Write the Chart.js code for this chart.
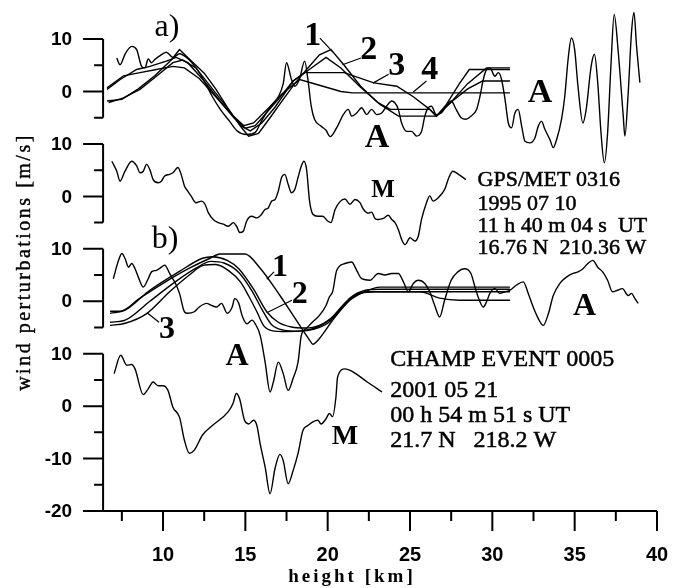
<!DOCTYPE html>
<html>
<head>
<meta charset="UTF-8">
<title>Wind perturbations</title>
<style>
    body {
        margin: 0;
        background: #fff;
    }
    #wrap {
        width: 675px;
        height: 588px;
    }
</style>
<script src="https://cdn.jsdelivr.net/npm/chart.js"></script>
</head>
<body>

<div id="wrap">
    <canvas id="windChart" width="675" height="588"></canvas>
</div>

<script>
// every series is [height km, wind perturbation m/s]; panels are stacked with an offset
const panelOffsets = { gps: 60, gpsModel: 40, champ: 20, champModel: 0 };

// a) GPS/MET 0316, observed profile (A)
const gpsObs = [
    [7.19,6.4],[7.39,5.1],[7.69,7.1],[8.1,8.6],[8.4,8.0],[8.7,4.8],[8.9,4.5],[9.1,6.2],[9.3,5.5],[9.5,6.1],
    [9.8,6.8],[10.2,7.5],[10.6,6.5],[11.0,7.2],[11.5,6.3],[12.0,4.5],[12.5,2.0],[13.0,-1.0],[13.5,-3.5],[14.0,-5.5],
    [14.5,-7.5],[15.08,-8.2],[15.6,-7.8],[16.0,-5.5],[16.5,-3.0],[17.0,-1.0],[17.3,1.5],[17.5,5.5],[17.8,2.3],[18.0,1.0],
    [18.3,2.5],[18.6,5.8],[18.8,2.3],[19.0,-2.8],[19.2,-5.3],[19.6,-6.6],[19.9,-7.4],[20.15,-8.6],[20.55,-6.9],[20.95,-4.4],
    [21.25,-3.4],[21.46,-4.7],[21.76,-4.1],[22.06,-3.1],[22.37,-4.4],[22.67,-3.4],[22.97,-4.4],[23.28,-4.1],[23.58,-2.8],[23.89,-1.8],
    [24.09,-2.2],[24.29,-3.4],[24.49,-6.0],[24.8,-7.6],[25.1,-7.6],[25.4,-8.5],[25.7,-7.6],[25.9,-4.7],[26.1,-3.1],[26.3,-2.8],
    [26.6,-4.4],[26.9,-4.1],[27.2,-2.8],[27.5,-1.8],[27.8,-3.4],[28.1,-5.0],[28.4,-5.3],[28.7,-4.7],[29.05,-3.4],[29.25,-0.9],
    [29.45,2.3],[29.65,4.2],[29.85,4.5],[30.16,2.9],[30.36,3.6],[30.56,2.3],[30.77,-1.5],[30.97,-6.0],[31.17,-6.9],[31.37,-4.1],
    [31.57,-3.4],[31.78,-6.6],[31.98,-9.5],[32.28,-9.8],[32.59,-8.8],[32.79,-6.6],[32.99,-5.7],[33.19,-7.2],[33.5,-9.2],[33.7,-10.7],
    [33.9,-9.2],[34.2,-5.3],[34.4,-0.9],[34.6,6.1],[34.8,10.2],[35.0,8.0],[35.2,1.0],[35.5,-6.0],[35.7,-3.4],[36.0,4.8],
    [36.2,7.1],[36.4,1.7],[36.6,-7.9],[36.8,-13.6],[37.0,-7.9],[37.2,4.8],[37.4,14.7],[37.65,7.4],[37.95,-4.7],[38.05,-8.5],
    [38.25,-0.3],[38.45,11.2],[38.6,15.1],[38.76,8.6],[38.96,1.7]
];

// a) fitted wave curves 1-4
const gpsFit1 = [[6.6,-1.8],[7.5,-1.5],[8.5,0.5],[9.5,3.0],[10.5,6.0],[11.0,8.0],[11.5,6.5],[12.5,3.5],[13.2,0.5],[14.0,-3.5],[14.8,-7.0],[15.2,-8.5],[15.8,-8.0],[16.5,-5.0],[17.3,-1.5],[18.0,1.5],[18.8,4.5],[19.5,7.0],[20.2,8.0],[21.0,5.0],[22.0,1.0],[23.0,-2.0],[23.8,-3.4],[26.2,-3.4],[26.6,-4.7],[27.2,-2.5],[28.0,1.5],[28.6,4.2],[31.07,4.2]];
const gpsFit2 = [[6.6,0.4],[7.4,2.3],[8.4,4.2],[9.2,4.8],[10.2,5.8],[10.8,6.5],[11.5,5.5],[12.5,2.0],[13.5,-2.0],[14.3,-5.0],[15.0,-7.0],[15.6,-6.5],[16.3,-4.0],[17.0,-1.5],[17.9,2.0],[18.8,4.0],[19.9,6.5],[20.8,4.5],[22.0,0.8],[23.2,-2.5],[24.3,-4.7],[26.6,-4.7],[27.5,-2.0],[28.5,1.5],[29.65,4.5],[31.07,4.5]];
const gpsFit3 = [[6.7,-2.1],[7.6,-1.2],[8.6,0.4],[9.6,2.9],[10.6,5.5],[11.2,6.0],[12.0,4.5],[13.0,0.5],[14.0,-3.5],[14.7,-6.5],[15.3,-7.5],[16.0,-6.0],[16.8,-3.0],[17.9,2.0],[18.6,3.6],[21.0,3.6],[22.8,1.65],[24.2,1.0],[25.2,-1.0],[26.2,-3.4],[26.6,-4.7],[27.5,-2.0],[28.5,0.5],[29.4,2.0],[31.07,2.0]];
const gpsFit4 = [[6.6,0.7],[7.6,3.0],[8.6,3.6],[9.6,4.2],[10.6,4.8],[11.3,4.5],[12.2,2.5],[13.2,-1.0],[14.2,-4.5],[14.9,-6.5],[15.5,-6.0],[16.3,-3.5],[17.2,-0.5],[18.3,2.3],[19.5,1.2],[20.8,0.0],[21.5,-0.25],[31.07,-0.25]];

// a) model profile (M)
const gpsModel = [
    [6.89,6.7],[7.19,4.8],[7.39,2.9],[7.69,4.8],[8.1,6.7],[8.4,5.8],[8.6,4.5],[8.8,4.8],[9.0,6.1],[9.2,5.1],
    [9.4,3.2],[9.7,2.6],[9.9,2.9],[10.1,3.9],[10.4,4.2],[10.6,4.5],[10.9,5.5],[11.1,4.2],[11.3,2.0],[11.5,1.0],
    [11.7,0.1],[12.0,-1.2],[12.35,-0.9],[12.55,-1.5],[12.75,-3.1],[13.05,-4.4],[13.36,-5.0],[13.66,-5.3],[13.96,-5.7],[14.27,-5.0],
    [14.47,-5.7],[14.67,-6.9],[14.88,-6.6],[15.08,-4.7],[15.39,-3.8],[15.69,-4.1],[15.99,-3.4],[16.19,-2.5],[16.39,-2.2],[16.6,-0.9],
    [16.8,-0.6],[17.0,1.0],[17.2,3.6],[17.4,4.2],[17.6,2.3],[17.8,0.7],[18.0,1.3],[18.2,3.6],[18.4,5.8],[18.56,6.7],
    [18.72,5.1],[18.9,-0.9],[19.1,-3.4],[19.4,-3.8],[19.7,-3.8],[20.0,-4.7],[20.2,-5.0],[20.45,-2.5],[20.75,-1.0],[21.05,-0.5],
    [21.35,-1.5],[21.66,-0.6],[21.96,-1.2],[22.16,-2.4],[22.47,-3.2],[22.67,-3.0],[22.87,-4.2],[23.07,-4.4],[23.38,-4.2],[23.68,-3.6],
    [23.89,-4.4],[24.09,-5.0],[24.29,-6.3],[24.49,-8.2],[24.7,-9.2],[25.0,-7.9],[25.3,-8.5],[25.5,-7.6],[25.7,-4.4],[26.0,-1.2],
    [26.2,0.1],[26.4,-0.9],[26.6,-0.6],[26.9,0.4],[27.1,1.3],[27.35,3.5],[27.6,4.8],[27.9,4.3],[28.4,3.2]
];

// b) CHAMP event 0005, observed profile (A)
const champObs = [
    [6.98,4.3],[7.3,7.8],[7.5,9.1],[7.7,8.1],[7.9,6.5],[8.1,7.2],[8.3,6.2],[8.5,4.6],[8.8,2.7],[9.1,4.3],
    [9.3,5.6],[9.6,5.9],[9.9,6.5],[10.1,6.9],[10.4,5.3],[10.8,3.1],[11.0,1.5],[11.3,-2.0],[11.5,-2.3],[11.9,-2.0],
    [12.2,-1.1],[12.65,-0.4],[12.95,-0.8],[13.25,-1.1],[13.55,-0.4],[13.9,-2.3],[14.2,-1.1],[14.35,0.5],[14.6,-0.4],[14.8,-2.7],
    [15.1,-4.3],[15.4,-3.6],[15.6,-4.3],[15.9,-6.5],[16.2,-11.6],[16.5,-17.3],[16.7,-15.4],[17.0,-11.6],[17.3,-13.8],[17.6,-17.0],
    [17.9,-14.7],[18.2,-11.6],[18.4,-6.5],[18.7,-5.2],[19.1,-3.9],[19.5,-2.7],[19.9,-0.8],[20.1,0.8],[20.3,1.8],[20.55,5.9],
    [21.05,7.2],[21.46,7.5],[21.76,5.9],[22.06,4.3],[22.57,4.0],[23.07,5.3],[23.48,5.0],[23.89,5.3],[24.29,5.3],[24.6,3.7],
    [24.9,1.8],[25.2,3.4],[25.5,4.0],[25.9,3.4],[26.2,1.8],[26.5,-0.8],[26.8,-3.0],[27.1,0.2],[27.5,4.0],[27.9,5.6],
    [28.3,6.2],[28.7,5.3],[29.0,2.1],[29.25,-0.1],[29.45,-1.1],[29.65,-0.1],[29.85,1.5],[30.16,2.4],[30.46,1.5],[30.77,1.8],
    [31.07,2.1],[31.47,3.1],[31.88,3.7],[32.18,1.5],[32.48,-1.1],[32.79,-3.3],[33.09,-4.6],[33.4,-2.4],[33.7,1.1],[34.1,3.4],
    [34.5,4.6],[34.9,5.3],[35.2,5.6],[35.5,6.2],[35.8,7.2],[36.1,7.8],[36.4,6.5],[36.7,5.6],[37.0,4.0],[37.3,1.8],
    [37.6,2.1],[37.9,2.4],[38.25,1.1],[38.45,1.5],[38.66,0.5],[38.86,-0.4]
];

// b) fitted wave curves
const champFit1 = [[6.78,-1.9],[7.39,-1.9],[8.6,0.6],[10.1,3.6],[11.6,6.3],[12.85,8.2],[13.46,9.0],[14.98,9.0],[15.9,6.3],[17.1,1.1],[18.3,-4.6],[18.9,-7.4],[19.1,-8.2],[19.5,-7.1],[20.4,-3.2],[21.35,0.2],[22.3,1.9],[23.2,2.7],[31.07,2.7]];
const champFit2 = [[6.78,-2.3],[7.7,-1.7],[9.2,2.1],[11.0,5.7],[12.4,8.2],[13.0,8.5],[13.9,7.8],[14.6,6.2],[15.5,2.3],[16.3,-2.0],[17.0,-4.0],[17.8,-4.9],[18.6,-5.1],[19.5,-4.6],[20.4,-2.7],[21.35,0.6],[22.3,2.1],[23.2,2.3],[31.07,2.3]];
const champFit3 = [[6.78,-4.6],[7.7,-4.2],[9.03,-2.3],[10.4,1.8],[11.6,5.0],[12.4,6.8],[13.2,7.0],[14.0,5.8],[14.7,3.7],[15.2,1.0],[15.7,-2.0],[16.1,-4.6],[16.6,-5.6],[17.5,-5.8],[18.5,-5.6],[19.3,-5.0],[20.1,-3.6],[21.05,-0.4],[22.0,1.5],[22.9,1.8],[25.6,1.8],[26.8,0.6],[28.0,0.2],[31.07,0.2]];
const champFit4 = [[6.78,-4.0],[7.7,-3.6],[9.2,0.0],[10.7,3.6],[12.0,6.3],[12.9,7.6],[13.7,7.3],[14.6,5.5],[15.4,2.0],[16.0,-1.5],[16.6,-4.5],[17.3,-5.5],[18.3,-5.7],[19.2,-5.3],[20.0,-4.2],[20.75,-1.7],[21.65,1.1],[22.6,1.8],[31.07,1.8]];

// b) model profile (M)
const champModel = [
    [7.03,6.2],[7.43,9.7],[7.8,7.8],[8.1,7.95],[8.3,7.1],[8.8,2.2],[9.1,3.3],[9.4,4.6],[9.7,3.9],[10.0,3.9],
    [10.3,3.0],[10.6,-0.2],[11.0,-2.1],[11.3,-6.5],[11.6,-9.0],[11.9,-8.4],[12.4,-5.5],[13.0,-3.7],[13.95,-1.1],[14.25,0.5],
    [14.45,2.4],[14.65,1.4],[14.95,-2.7],[15.2,-3.4],[15.5,-2.7],[15.7,-3.7],[15.9,-7.2],[16.2,-11.6],[16.5,-16.7],[16.8,-11.9],
    [17.1,-9.2],[17.3,-10.4],[17.6,-14.8],[17.9,-12.3],[18.2,-9.0],[18.5,-4.6],[18.8,-3.7],[19.1,-3.0],[19.4,-2.7],[19.6,-3.4],
    [19.9,-2.4],[20.1,-1.4],[20.3,-2.0],[20.5,1.7],[20.6,5.5],[21.05,7.1],[21.55,6.5],[22.4,4.6],[23.3,2.7]
];

// y axis pieces: [offset, top value, bottom value]
const yPieces = [[60, 10, -5], [40, 10, -5], [20, 10, -5], [0, 10, -20]];
const xTicks = [7.5, 10, 12.5, 15, 17.5, 20, 22.5, 25, 27.5, 30, 32.5, 35, 37.5, 40];

const gpsText = ['GPS/MET 0316', '1995 07 10', '11 h 40 m 04 s  UT', '16.76 N  210.36 W'];
const champText = ['CHAMP EVENT 0005', '2001 05 21', '00 h 54 m 51 s UT', '21.7 N   218.2 W'];

function line(series, offset, smooth) {
    return {
        data: series.map(p => ({ x: p[0], y: p[1] + offset })),
        showLine: true,
        borderColor: '#000',
        borderWidth: 1.4,
        pointRadius: 0,
        tension: 0,
        cubicInterpolationMode: smooth ? 'monotone' : 'default'
    };
}

const SERIF = '"Liberation Serif", "Times New Roman", serif';
const SANS = '"Liberation Sans", Arial, sans-serif';

// annotation labels placed in data units (height, stacked value)
const labels = [
    { t: 'a)', x: 10.24, y: 72.1, f: '32px ' + SERIF },
    { t: 'b)', x: 10.12, y: 31.7, f: '32px ' + SERIF },
    { t: '1', x: 19.1, y: 70.6, f: 'bold 34px ' + SERIF },
    { t: '2', x: 22.5, y: 67.9, f: 'bold 34px ' + SERIF },
    { t: '3', x: 24.2, y: 64.9, f: 'bold 34px ' + SERIF },
    { t: '4', x: 26.2, y: 64.1, f: 'bold 34px ' + SERIF },
    { t: 'A', x: 32.9, y: 59.7, f: 'bold 34px ' + SERIF },
    { t: 'A', x: 23.0, y: 51.1, f: 'bold 34px ' + SERIF },
    { t: 'M', x: 23.36, y: 41.2, f: 'bold 25px ' + SERIF },
    { t: '1', x: 17.1, y: 26.3, f: 'bold 32px ' + SERIF },
    { t: '2', x: 18.3, y: 21.2, f: 'bold 32px ' + SERIF },
    { t: '3', x: 10.24, y: 14.5, f: 'bold 32px ' + SERIF },
    { t: 'A', x: 14.5, y: 9.4, f: 'bold 32px ' + SERIF },
    { t: 'A', x: 35.6, y: 18.9, f: 'bold 32px ' + SERIF },
    { t: 'M', x: 21.05, y: -5.9, f: 'bold 28px ' + SERIF }
];
const leaders = [
    [19.53, 70.2, 20.32, 67.5], [22.02, 66.4, 20.9, 65.1], [23.7, 63.3, 22.75, 61.6], [26.0, 62.0, 25.2, 59.9],
    [16.74, 25.6, 16.3, 24.2], [17.83, 20.2, 16.3, 17.8], [9.76, 16.0, 9.03, 17.8]
];

const axesPlugin = {
    id: 'axesPlugin',
    afterDatasetsDraw(chart) {
        const ctx = chart.ctx;
        const xs = chart.scales.x, ys = chart.scales.y;
        const X = v => xs.getPixelForValue(v);
        const Y = v => ys.getPixelForValue(v);
        ctx.save();
        ctx.strokeStyle = '#000';
        ctx.fillStyle = '#000';
        ctx.lineWidth = 2;

        // broken y axis
        const x0 = X(6.36);
        ctx.font = 'bold 19px ' + SANS;
        ctx.textAlign = 'right';
        ctx.textBaseline = 'middle';
        yPieces.forEach(([off, top, bot]) => {
            ctx.beginPath();
            ctx.moveTo(x0, Y(off + top));
            ctx.lineTo(x0, Y(off + bot));
            for (let v = bot; v <= top; v += 5) {
                const len = v % 10 === 0 ? 20 : 9;
                ctx.moveTo(x0 - len, Y(off + v));
                ctx.lineTo(x0, Y(off + v));
            }
            ctx.stroke();
            for (let v = bot; v <= top; v += 5) {
                if (v % 10 === 0) ctx.fillText(String(v), x0 - 31, Y(off + v) + 1);
            }
        });

        // x axis
        const yb = Y(-20);
        ctx.beginPath();
        ctx.moveTo(xs.left, yb);
        ctx.lineTo(X(40), yb);
        xTicks.forEach(t => {
            const len = t % 5 === 0 ? 20 : 10;
            ctx.moveTo(X(t), yb);
            ctx.lineTo(X(t), yb + len);
        });
        ctx.stroke();
        ctx.font = 'bold 20px ' + SANS;
        ctx.textAlign = 'center';
        xTicks.forEach(t => {
            if (t % 5 === 0) ctx.fillText(String(t), X(t), yb + 44);
        });

        // axis titles
        ctx.font = 'bold 19px ' + SERIF;
        ctx.letterSpacing = '3px';
        ctx.fillText('height [km]', 352, 577);
        ctx.save();
        ctx.translate(25, 262);
        ctx.rotate(-Math.PI / 2);
        ctx.font = '20px ' + SERIF;
        ctx.letterSpacing = '2.5px';
        ctx.lineWidth = 0.4;
        ctx.fillText('wind perturbations [m/s]', 0, 0);
        ctx.strokeText('wind perturbations [m/s]', 0, 0);
        ctx.restore();
        ctx.letterSpacing = '0px';

        // labels and leaders
        labels.forEach(l => {
            ctx.font = l.f;
            ctx.fillText(l.t, X(l.x), Y(l.y));
        });
        ctx.lineWidth = 1.2;
        ctx.beginPath();
        leaders.forEach(([a, b, c, d]) => {
            ctx.moveTo(X(a), Y(b));
            ctx.lineTo(X(c), Y(d));
        });
        ctx.stroke();

        // event captions, a little heavier than plain text
        ctx.textAlign = 'left';
        ctx.lineWidth = 0.5;
        ctx.font = '22px ' + SERIF;
        const gy = [43.1, 38.55, 34.35, 30.16];
        gpsText.forEach((s, i) => {
            ctx.fillText(s, X(29.1), Y(gy[i]));
            ctx.strokeText(s, X(29.1), Y(gy[i]));
        });
        ctx.font = '24px ' + SERIF;
        const cy = [8.8, 2.9, -1.9, -6.65];
        champText.forEach((s, i) => {
            ctx.fillText(s, X(23.8), Y(cy[i]));
            ctx.strokeText(s, X(23.8), Y(cy[i]));
        });
        ctx.restore();
    }
};

const windChart = new Chart(document.getElementById('windChart'), {
    type: 'scatter',
    data: {
        datasets: [
            line(gpsObs, panelOffsets.gps, true),
            line(gpsFit1, panelOffsets.gps, false),
            line(gpsFit2, panelOffsets.gps, false),
            line(gpsFit3, panelOffsets.gps, false),
            line(gpsFit4, panelOffsets.gps, false),
            line(gpsModel, panelOffsets.gpsModel, true),
            line(champObs, panelOffsets.champ, true),
            line(champFit1, panelOffsets.champ, true),
            line(champFit2, panelOffsets.champ, true),
            line(champFit3, panelOffsets.champ, true),
            line(champFit4, panelOffsets.champ, true),
            line(champModel, panelOffsets.champModel, true)
        ]
    },
    options: {
        responsive: false,
        animation: false,
        devicePixelRatio: 1,
        layout: { padding: { left: 83, right: 18, top: 5, bottom: 77 } },
        scales: {
            x: { type: 'linear', min: 5.14, max: 40, display: false },
            y: { type: 'linear', min: -20, max: 76.5, display: false }
        },
        plugins: {
            legend: { display: false },
            tooltip: { enabled: false }
        },
        clip: false
    },
    plugins: [axesPlugin]
});
</script>

</body>
</html>
